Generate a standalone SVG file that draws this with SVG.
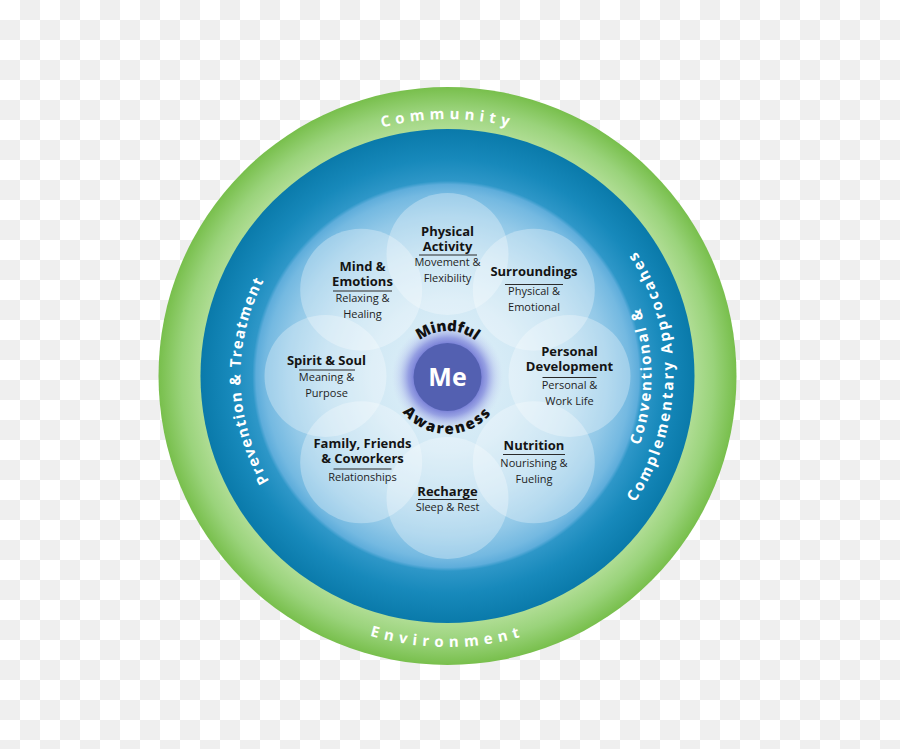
<svg xmlns="http://www.w3.org/2000/svg" width="900" height="749" viewBox="0 0 900 749">
  <defs>
    <pattern id="checker" x="0" y="0" width="40" height="40" patternUnits="userSpaceOnUse">
      <rect width="40" height="40" fill="#ffffff"/>
      <rect x="20" y="0" width="20" height="20" fill="#efefef"/>
      <rect x="0" y="20" width="20" height="20" fill="#efefef"/>
    </pattern>
    <radialGradient id="greenGrad" cx="447.5" cy="376" r="289" gradientUnits="userSpaceOnUse">
      <stop offset="0.84" stop-color="#b4df99"/>
      <stop offset="0.92" stop-color="#9ad37b"/>
      <stop offset="1" stop-color="#78bf4c"/>
    </radialGradient>
    <radialGradient id="blueGrad" cx="447.5" cy="376" r="247" gradientUnits="userSpaceOnUse">
      <stop offset="0" stop-color="#e2f1f9"/>
      <stop offset="0.3" stop-color="#d2e9f5"/>
      <stop offset="0.5" stop-color="#b6dbef"/>
      <stop offset="0.65" stop-color="#93c9e8"/>
      <stop offset="0.74" stop-color="#74b9e1"/>
      <stop offset="0.775" stop-color="#5eaddb"/>
      <stop offset="0.79" stop-color="#2e97c8"/>
      <stop offset="0.88" stop-color="#1789bb"/>
      <stop offset="1" stop-color="#0a7aaa"/>
    </radialGradient>
    <radialGradient id="glow" cx="447.5" cy="377" r="56" gradientUnits="userSpaceOnUse">
      <stop offset="0.55" stop-color="#6a70d0" stop-opacity="1"/>
      <stop offset="0.7" stop-color="#7f86dc" stop-opacity="0.75"/>
      <stop offset="0.85" stop-color="#a9b3ea" stop-opacity="0.35"/>
      <stop offset="1" stop-color="#c8d6f2" stop-opacity="0"/>
    </radialGradient>
    <path id="arcCommunity" d="M 190.5 376 A 257 257 0 0 1 704.5 376"/>
    <path id="arcEnvironment" d="M 176.5 376 A 271 271 0 0 0 718.5 376"/>
    <path id="arcPrevention" d="M 447.5 583 A 207 207 0 0 1 447.5 169"/>
    <path id="arcConv1" d="M 447.5 580 A 204 204 0 0 0 447.5 172"/>
    <path id="arcConv2" d="M 447.5 602 A 226 226 0 0 0 447.5 150"/>
    <path id="arcMindful" d="M 401.5 377 A 46 46 0 0 1 493.5 377"/>
    <path id="arcAwareness" d="M 390.5 377 A 57 57 0 0 0 504.5 377"/>
  </defs>
  <style>
    .ring { font-family: "Open Sans", "Liberation Sans", sans-serif; font-weight: 700; font-size: 15px; fill: #ffffff; }
    .petal { fill: #ffffff; fill-opacity: 0.3; }
    .title { font-family: "Open Sans", "Liberation Sans", sans-serif; font-weight: 700; font-size: 13px; fill: #141414; text-anchor: middle; }
    .sub { font-family: "Open Sans", "Liberation Sans", sans-serif; font-weight: 400; font-size: 11px; fill: #1e1e1e; text-anchor: middle; }
    .rule { stroke: #2a2a2a; stroke-width: 1; }
    .core { font-family: "Open Sans", "Liberation Sans", sans-serif; font-weight: 800; fill: #111111; }
  </style>

  <rect width="900" height="749" fill="url(#checker)"/>

  <g id="environment-ring">
    <circle cx="447.5" cy="376" r="289" fill="url(#greenGrad)"/>
    <text class="ring" letter-spacing="5"><textPath href="#arcCommunity" startOffset="50%" text-anchor="middle">Community</textPath></text>
    <text class="ring" letter-spacing="5.5"><textPath href="#arcEnvironment" startOffset="50%" text-anchor="middle">Environment</textPath></text>
  </g>

  <g id="care-ring">
    <circle cx="447.5" cy="376" r="247" fill="url(#blueGrad)"/>
    <text class="ring" letter-spacing="1.3"><textPath href="#arcPrevention" startOffset="49.2%" text-anchor="middle">Prevention &amp; Treatment</textPath></text>
    <text class="ring" letter-spacing="1.9"><textPath href="#arcConv1" startOffset="50%" text-anchor="middle">Conventional &amp;</textPath></text>
    <text class="ring" letter-spacing="2.3"><textPath href="#arcConv2" startOffset="50%" text-anchor="middle">Complementary Approcahes</textPath></text>
  </g>

  <g id="petals">
    <circle class="petal" cx="447.5" cy="254" r="61"/>
    <circle class="petal" cx="533.8" cy="289.7" r="61"/>
    <circle class="petal" cx="569.5" cy="376" r="61"/>
    <circle class="petal" cx="533.8" cy="462.3" r="61"/>
    <circle class="petal" cx="447.5" cy="498" r="61"/>
    <circle class="petal" cx="361.2" cy="462.3" r="61"/>
    <circle class="petal" cx="325.5" cy="376" r="61"/>
    <circle class="petal" cx="361.2" cy="289.7" r="61"/>
  </g>

  <g id="physical-activity">
    <text class="title" x="447.5" y="236">Physical</text>
    <text class="title" x="447.5" y="251">Activity</text>
    <line class="rule" x1="419" y1="255" x2="477" y2="255"/>
    <text class="sub" x="447.5" y="266">Movement &amp;</text>
    <text class="sub" x="447.5" y="282">Flexibility</text>
  </g>

  <g id="surroundings">
    <text class="title" x="534" y="276">Surroundings</text>
    <line class="rule" x1="505" y1="284.5" x2="563" y2="284.5"/>
    <text class="sub" x="534" y="295">Physical &amp;</text>
    <text class="sub" x="534" y="311">Emotional</text>
  </g>

  <g id="personal-development">
    <text class="title" x="569.5" y="356">Personal</text>
    <text class="title" x="569.5" y="371">Development</text>
    <line class="rule" x1="542.5" y1="377.5" x2="596.5" y2="377.5"/>
    <text class="sub" x="569.5" y="389">Personal &amp;</text>
    <text class="sub" x="569.5" y="405">Work Life</text>
  </g>

  <g id="nutrition">
    <text class="title" x="534" y="450">Nutrition</text>
    <line class="rule" x1="503" y1="454.5" x2="565" y2="454.5"/>
    <text class="sub" x="534" y="467">Nourishing &amp;</text>
    <text class="sub" x="534" y="482.5">Fueling</text>
  </g>

  <g id="recharge">
    <text class="title" x="447.5" y="495.5">Recharge</text>
    <line class="rule" x1="418" y1="499.5" x2="477" y2="499.5"/>
    <text class="sub" x="447.5" y="511">Sleep &amp; Rest</text>
  </g>

  <g id="family-friends-coworkers">
    <text class="title" x="362.5" y="447.5">Family, Friends</text>
    <text class="title" x="362.5" y="462.5">&amp; Coworkers</text>
    <line class="rule" x1="333.5" y1="469" x2="391.5" y2="469"/>
    <text class="sub" x="362.5" y="481">Relationships</text>
  </g>

  <g id="spirit-soul">
    <text class="title" x="326.5" y="365">Spirit &amp; Soul</text>
    <line class="rule" x1="299" y1="370" x2="355" y2="370"/>
    <text class="sub" x="326.5" y="381">Meaning &amp;</text>
    <text class="sub" x="326.5" y="397">Purpose</text>
  </g>

  <g id="mind-emotions">
    <text class="title" x="362.5" y="271">Mind &amp;</text>
    <text class="title" x="362.5" y="286">Emotions</text>
    <line class="rule" x1="333" y1="291" x2="392" y2="291"/>
    <text class="sub" x="362.5" y="302">Relaxing &amp;</text>
    <text class="sub" x="362.5" y="318">Healing</text>
  </g>

  <g id="me">
    <circle cx="447.5" cy="377" r="56" fill="url(#glow)"/>
    <circle cx="447.5" cy="377" r="34" fill="#5360b1"/>
    <text x="447.5" y="386" text-anchor="middle" font-family="Open Sans, Liberation Sans, sans-serif" font-weight="700" font-size="25" fill="#ffffff">Me</text>
    <text class="core" font-size="15" letter-spacing="0"><textPath href="#arcMindful" startOffset="50%" text-anchor="middle">Mindful</textPath></text>
    <text class="core" font-size="15" letter-spacing="2"><textPath href="#arcAwareness" startOffset="50%" text-anchor="middle">Awareness</textPath></text>
  </g>
</svg>
